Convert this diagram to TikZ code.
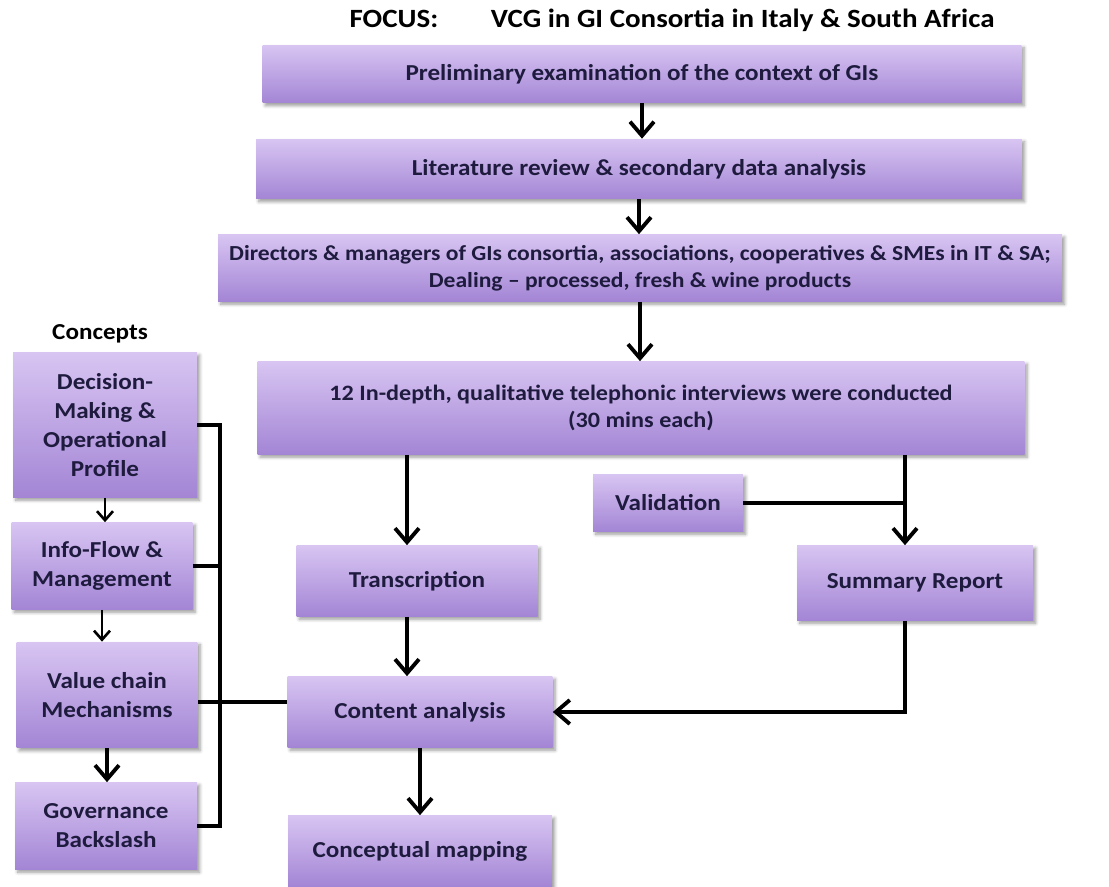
\documentclass[tikz,border=0pt]{standalone}
\usepackage{fontspec}
\setmainfont{Carlito}[FakeStretch=1.1]
\usepackage{tikz}
\usetikzlibrary{calc,arrows.meta,positioning}
\usetikzlibrary{shadows.blur}
\definecolor{boxtop}{HTML}{D8C5F2}
\definecolor{boxbot}{HTML}{A385D5}
\definecolor{ink}{HTML}{1E1B3E}
\tikzset{
stage_box/.style={rectangle, top color=boxtop, bottom color=boxbot, draw=none, text=ink, font=\fontsize{13}{15.5}\selectfont\bfseries, align=center, inner sep=2pt, blur shadow={shadow xshift=1.5pt, shadow yshift=-1.5pt, shadow blur steps=5}},
concept_box/.style={stage_box, font=\fontsize{13}{16.5}\selectfont\bfseries},
flow/.style={line width=2.2pt, -{Straight Barb[length=2.8mm, width=4.8mm, line width=2.2pt]}},
small_flow/.style={line width=1.5pt, -{Straight Barb[length=1.8mm, width=3.2mm, line width=1.5pt]}},
link/.style={line width=1.9pt}
}

\begin{document}
\begin{tikzpicture}[x=0.02cm, y=-0.02cm]
    \useasboundingbox (0,0) rectangle (1109,886);
    % title
    \node[text=black, font=\fontsize{15}{17}\selectfont\bfseries] (focus) at (672,20) {FOCUS:\hspace{2em}VCG in GI Consortia in Italy \& South Africa};
    % main column
    \node[stage_box, minimum width=15.18cm, minimum height=1.16cm] (prelim) at (642,74) {Preliminary examination of the context of GIs};
    \node[stage_box, minimum width=15.32cm, minimum height=1.2cm] (litrev) at (639,169) {Literature review \& secondary data analysis};
    \node[stage_box, minimum width=16.88cm, minimum height=1.34cm, font=\fontsize{12.2}{15.5}\selectfont\bfseries] (actors) at (640,268) {Directors \& managers of GIs consortia, associations, cooperatives \& SMEs in IT \& SA;\\Dealing -- processed, fresh \& wine products};
    \node[stage_box, minimum width=15.34cm, minimum height=1.86cm, font=\fontsize{12.5}{15.8}\selectfont\bfseries] (interviews) at (641,408) {12 In-depth, qualitative telephonic interviews were conducted\\(30 mins each)};
    \node[stage_box, minimum width=3cm, minimum height=1.14cm] (validation) at (668,503) {Validation};
    \node[stage_box, minimum width=4.82cm, minimum height=1.42cm] (transcription) at (417,581) {Transcription};
    \node[stage_box, minimum width=4.72cm, minimum height=1.5cm] (summary) at (915,583) {Summary Report};
    \node[stage_box, minimum width=5.3cm, minimum height=1.42cm] (content) at (420,712) {Content analysis};
    \node[stage_box, minimum width=5.28cm, minimum height=1.42cm] (mapping) at (420,851) {Conceptual mapping};
    % concepts column
    \node[text=black, font=\fontsize{13}{15}\selectfont\bfseries] (concepts) at (100,334) {Concepts};
    \node[concept_box, minimum width=3.68cm, minimum height=2.9cm] (decision) at (105,425) {Decision-\\Making \&\\Operational\\Profile};
    \node[concept_box, minimum width=3.62cm, minimum height=1.74cm] (infoflow) at (102,566) {Info-Flow \&\\Management};
    \node[concept_box, minimum width=3.62cm, minimum height=2.12cm] (valuechain) at (107,695) {Value chain\\Mechanisms};
    \node[concept_box, minimum width=3.64cm, minimum height=1.74cm] (governance) at (106,826) {Governance\\Backslash};
    \coordinate (bus) at (220,0);

    \draw[flow] (prelim.south) -- (prelim.south |- litrev.north);
    \draw[flow] (litrev.south) -- (litrev.south |- actors.north);
    \draw[flow] (actors.south) -- (actors.south |- interviews.north);
    \draw[flow] ([xshift=-0.2cm]transcription.north |- interviews.south) -- ([xshift=-0.2cm]transcription.north);
    \draw[flow] ([xshift=-0.2cm]summary.north |- interviews.south) -- ([xshift=-0.2cm]summary.north);
    \draw[link] (validation.east) -- ([xshift=-0.2cm]validation.east -| summary.north);
    \draw[flow] ([xshift=-0.2cm]transcription.south) -- ([xshift=-0.2cm]transcription.south |- content.north);
    \draw[flow] ([xshift=-0.2cm]summary.south) |- (content.east);
    \draw[flow] (content.south) -- (content.south |- mapping.north);

    \draw[small_flow] (decision.south) -- (decision.south |- infoflow.north);
    \draw[small_flow] (infoflow.south) -- (infoflow.south |- valuechain.north);
    \draw[flow] (valuechain.south) -- (valuechain.south |- governance.north);
    \draw[link] (decision.east) -- (decision.east -| bus) -- (governance.east -| bus) -- (governance.east);
    \draw[link] (infoflow.east) -- (infoflow.east -| bus);
    \draw[link] ([yshift=-0.14cm]valuechain.east) -- ([yshift=-0.14cm]valuechain.east -| content.west);
\end{tikzpicture}
\end{document}
